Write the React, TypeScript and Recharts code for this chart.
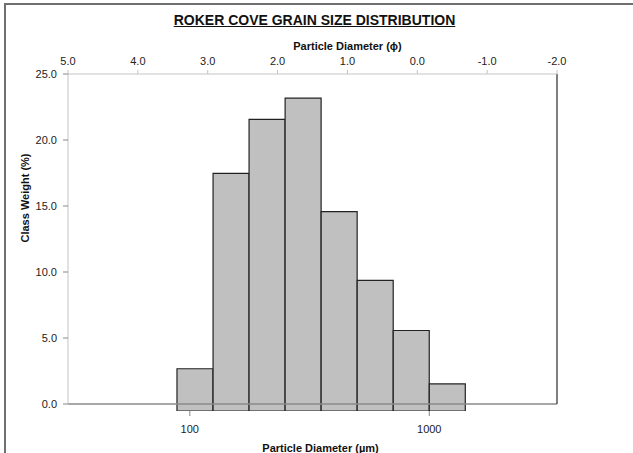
import React from 'react';
import {
  ComposedChart,
  Bar,
  XAxis,
  YAxis,
  ReferenceLine,
} from 'recharts';

// bin centres (µm) of the half-phi classes, and class weight (%)
const binCentresUm = [105.1, 148.7, 210.2, 297.3, 420.4, 594.6, 840.9, 1189.2];
const classWeight = [3.2, 18.0, 22.1, 23.7, 15.1, 9.9, 6.1, 2.05];

const phiTicks = [5, 4, 3, 2, 1, 0, -1, -2];
const umTicks = [100, 1000];
const weightTicks = [0, 5, 10, 15, 20, 25];

// bars sit on a secondary axis whose zero is a little below the primary one
const BAR_OFFSET = 0.53;

const FONT = '"Liberation Sans", Arial, sans-serif';

const chartData = binCentresUm.map((um, i) => ({ um, weight: classWeight[i] }));

const App: React.FC = () => {
  return (
    <div style={{ position: 'absolute', left: 0, top: 0, width: 633, height: 453, background: '#fff', overflow: 'hidden', fontFamily: FONT }}>
      <div style={{ position: 'absolute', left: 4, top: 3, width: 700, height: 500, borderTop: '2px solid #707070', borderLeft: '2px solid #707070' }} />
      <div
        style={{
          position: 'absolute', left: 0, top: 12, width: 629, textAlign: 'center',
          fontSize: 14, fontWeight: 'bold', textDecoration: 'underline', color: '#111',
        }}
      >
        ROKER COVE GRAIN SIZE DISTRIBUTION
      </div>
      <ComposedChart
        width={633}
        height={453}
        data={chartData}
        barCategoryGap={0}
        barGap={0}
        margin={{ top: 0, right: 76, bottom: 0, left: 0 }}
        style={{ position: 'absolute', left: 0, top: 0, fontFamily: FONT }}
      >
        {/* phi axis: needs a dataKey, otherwise it falls back to the row index */}
        <XAxis
          xAxisId="phi"
          dataKey="um"
          orientation="top"
          type="number"
          domain={[-2, 5]}
          reversed
          ticks={phiTicks}
          tickFormatter={(v: number) => v.toFixed(1)}
          height={74}
          stroke="#c4c4c4"
          tickSize={4}
          tickMargin={5}
          tick={{ fill: '#222', fontSize: 11 }}
          allowDataOverflow
          label={{ value: 'Particle Diameter (ϕ)', position: 'insideTop', offset: 42, dx: 35, fill: '#111', fontSize: 11, fontWeight: 'bold' }}
        />
        <XAxis
          xAxisId="um"
          dataKey="um"
          orientation="bottom"
          type="number"
          scale="log"
          domain={[31, 3415]}
          ticks={umTicks}
          height={42}
          stroke="#888"
          axisLine={false}
          tickLine={{ stroke: '#888' }}
          tickSize={5}
          tickMargin={9}
          tick={{ fill: '#222', fontSize: 11 }}
          allowDataOverflow
          label={{ value: 'Particle Diameter (µm)', position: 'insideBottom', offset: 1, dx: 8, fill: '#111', fontSize: 11, fontWeight: 'bold' }}
        />
        <YAxis
          yAxisId="left"
          type="number"
          domain={[-BAR_OFFSET, 25]}
          ticks={weightTicks}
          tickFormatter={(v: number) => v.toFixed(1)}
          width={68}
          stroke="#888"
          axisLine={false}
          tickLine={{ stroke: '#888' }}
          tickSize={5}
          tickMargin={6}
          tick={{ fill: '#222', fontSize: 11 }}
          allowDataOverflow
          label={{ value: 'Class Weight (%)', angle: -90, position: 'insideLeft', offset: 25, fill: '#111', fontSize: 11, fontWeight: 'bold' }}
        />
        <YAxis yAxisId="bars" orientation="right" hide width={0} type="number" domain={[0, 25 + BAR_OFFSET]} allowDataOverflow />
        <ReferenceLine xAxisId="phi" yAxisId="left" y={0} stroke="#8a8a8a" strokeWidth={1.5} />
        <ReferenceLine xAxisId="phi" yAxisId="left" segment={[{ x: 5, y: 0 }, { x: 5, y: 25 }]} stroke="#c4c4c4" />
        <ReferenceLine xAxisId="phi" yAxisId="left" segment={[{ x: -2, y: 0 }, { x: -2, y: 25 }]} stroke="#555" strokeWidth={1.5} />
        <Bar
          xAxisId="um"
          yAxisId="bars"
          dataKey="weight"
          fill="#c0c0c0"
          stroke="#222"
          strokeWidth={1.2}
          isAnimationActive={false}
        />
      </ComposedChart>
    </div>
  );
};

export default App;
